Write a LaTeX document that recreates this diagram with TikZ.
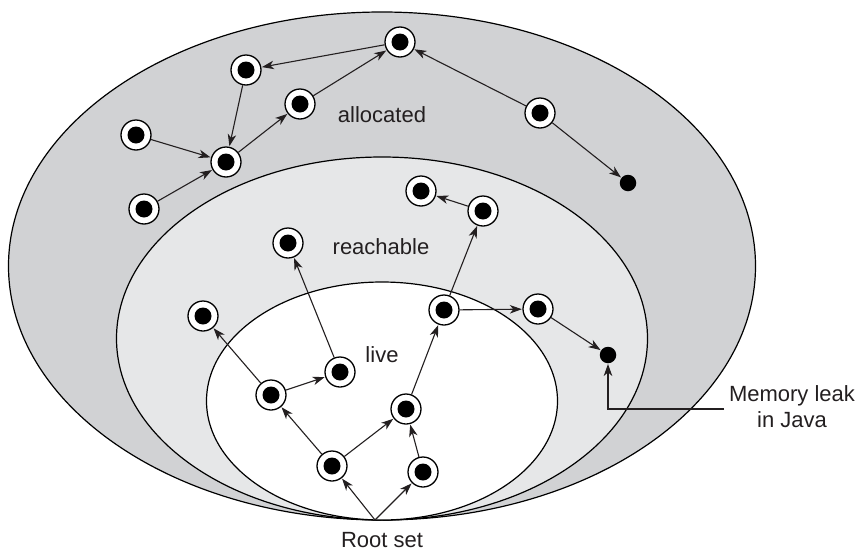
\documentclass[tikz,border=0pt]{standalone}
\usepackage{fontspec}
\setmainfont{Liberation Sans}
\usetikzlibrary{arrows.meta}
\definecolor{allocgray}{HTML}{D1D2D4}
\definecolor{reachgray}{HTML}{E6E7E8}
\definecolor{txtgray}{HTML}{231F20}
\tikzset{
  obj/.style={circle, draw=black, fill=white, line width=1.3pt, minimum size=30pt, inner sep=0pt,
    path picture={\fill[black] (path picture bounding box.center) circle (8.5pt);}},
  leakdot/.style={circle, fill=black, minimum size=16.5pt, inner sep=0pt},
  ref/.style={-{Stealth[length=12pt,width=8.5pt,inset=3.5pt]}, line width=1.1pt, draw=txtgray, shorten >=0.5pt},
  zone/.style={draw=black, line width=1.2pt},
  lbl/.style={text=txtgray, font=\fontsize{22}{26}\selectfont, inner sep=0pt}
}
\begin{document}
\begin{tikzpicture}[x=1pt, y=-1pt]
\useasboundingbox (0,0) rectangle (855,552);
% zones
\path[zone, fill=allocgray] (382,266) ellipse [x radius=373.5, y radius=254];
\path[zone, fill=reachgray] (382,338.5) ellipse [x radius=265.5, y radius=181.5];
\path[zone, fill=white] (382,401) ellipse [x radius=175.5, y radius=119];
% labels
\node[lbl] (tall) at (382,115) {allocated};
\node[lbl] (treach) at (381,247) {reachable};
\node[lbl] (tlive) at (382,355) {live};
\node[lbl] (troot) at (382,540) {Root set};
\node[lbl, align=center] (tleak) at (792,407) {Memory leak\\in Java};
% allocated objects
\node[obj] (a1) at (400,42) {};
\node[obj] (a2) at (246,70) {};
\node[obj] (a3) at (300,104) {};
\node[obj] (a4) at (136,135) {};
\node[obj] (a5) at (226,162) {};
\node[obj] (a6) at (144,209) {};
\node[obj] (a7) at (540,113) {};
\node[leakdot] (k1) at (628,183) {};
% reachable objects
\node[obj] (r1) at (288,243) {};
\node[obj] (r2) at (483,211) {};
\node[obj] (r3) at (421,191) {};
\node[obj] (r4) at (538,309) {};
\node[obj] (l1) at (203,316) {};
\node[leakdot] (k2) at (608,355) {};
% live objects
\node[obj] (l2) at (271,395) {};
\node[obj] (l3) at (340,372) {};
\node[obj] (l4) at (332,466) {};
\node[obj] (l5) at (406,409) {};
\node[obj] (l6) at (423,472) {};
\node[obj] (l7) at (444,310) {};
\coordinate (root) at (375,520);
\coordinate (leakend) at (724,409);
% references
\draw[ref] (a1) -- (a2);
\draw[ref] (a2) -- (a5);
\draw[ref] (a5) -- (a3);
\draw[ref] (a3) -- (a1);
\draw[ref] (a4) -- (a5);
\draw[ref] (a6) -- (a5);
\draw[ref] (a7) -- (a1);
\draw[ref] (a7) -- (k1);
\draw[ref] (r2) -- (r3);
\draw[ref] (l7) -- (r2);
\draw[ref] (l7) -- (r4);
\draw[ref] (r4) -- (k2);
\draw[ref] (l3) -- (r1);
\draw[ref] (l2) -- (l1);
\draw[ref] (l2) -- (l3);
\draw[ref] (l4) -- (l2);
\draw[ref] (l4) -- (l5);
\draw[ref] (l5) -- (l7);
\draw[ref] (l6) -- (l5);
\draw[ref] (root) -- (l4);
\draw[ref] (root) -- (l6);
\draw[ref] (leakend) -| (k2);
\end{tikzpicture}
\end{document}
